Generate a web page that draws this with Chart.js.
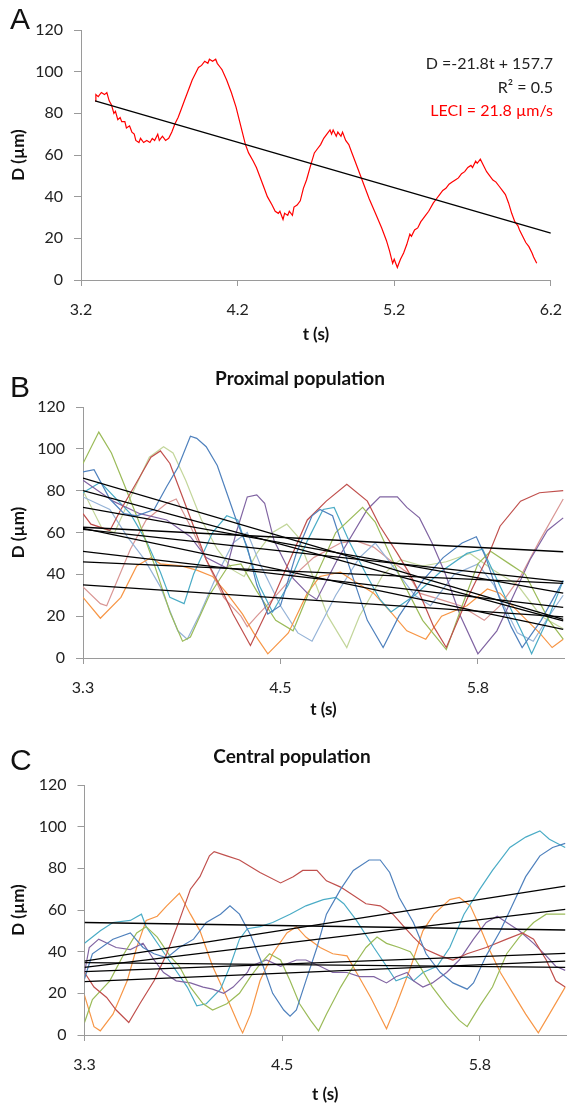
<!DOCTYPE html>
<html>
<head>
<meta charset="utf-8">
<script src="https://cdn.jsdelivr.net/npm/chart.js@4.4.0/dist/chart.umd.min.js"></script>
<style>
body { margin:0; background:#fff; width:576px; height:1108px; position:relative; overflow:hidden; font-family:Lato, sans-serif; }
.panel { position:absolute; left:0; width:576px; }
.letter { position:absolute; left:10px; font-family:"Liberation Sans", Arial, sans-serif; font-size:30px; line-height:30px; color:#111; }
.note { position:absolute; right:23px; font-size:16px; line-height:18px; text-align:right; color:#222; white-space:nowrap; }
.ptitle { position:absolute; width:300px; margin-left:-150px; text-align:center; font-weight:bold; font-size:19px; line-height:22px; color:#111; }
</style>
</head>
<body>
<div class="panel" style="top:0;height:345px"><canvas id="chartA"></canvas></div>
<div class="panel" style="top:345px;height:375px"><canvas id="chartB"></canvas></div>
<div class="panel" style="top:720px;height:388px"><canvas id="chartC"></canvas></div>

<div class="letter" style="top:4px">A</div>
<div class="letter" style="top:372px">B</div>
<div class="letter" style="top:745px">C</div>

<div class="ptitle" style="left:300px;top:367px">Proximal population</div>
<div class="ptitle" style="left:292px;top:745px">Central population</div>

<div class="note" style="top:54px">D =-21.8t + 157.7</div>
<div class="note" style="top:78px">R² = 0.5</div>
<div class="note" style="top:101px;color:#ff0000">LECI = 21.8 µm/s</div>

<script>
// Ejes
const yTicks = [0, 20, 40, 60, 80, 100, 120];
const xTicksA = [3.2, 4.2, 5.2, 6.2];
const xLabelsA = ['3.2', '4.2', '5.2', '6.2'];
const xTicksBC = [3.3, 4.55, 5.8];
const xLabelsBC = ['3.3', '4.5', '5.8'];

// Panel A: una trayectoria (t, D)
const aRed = [[3.29,86],[3.295,89],[3.31,88],[3.33,90],[3.35,89],[3.365,90],[3.38,86],[3.395,84],[3.41,80],[3.42,81],[3.435,77],[3.45,78],[3.46,76],[3.48,76],[3.49,73],[3.51,74],[3.525,71],[3.54,70],[3.55,67],[3.57,66],[3.58,68],[3.60,66],[3.62,67],[3.64,66],[3.655,68],[3.67,67],[3.69,70],[3.70,67],[3.72,69],[3.74,67],[3.76,68],[3.78,71],[3.80,75],[3.82,78],[3.84,82],[3.86,86],[3.88,90],[3.90,94],[3.91,96],[3.93,99],[3.95,102],[3.97,103],[3.99,105],[4.01,104],[4.02,106],[4.04,105],[4.06,106],[4.07,104],[4.09,102],[4.10,101],[4.13,96],[4.16,90],[4.19,83],[4.21,77],[4.23,71],[4.25,65],[4.27,61],[4.30,57],[4.32,54],[4.34,50],[4.37,44],[4.39,40],[4.42,36],[4.44,33],[4.46,32],[4.47,33],[4.49,29],[4.50,32],[4.52,31],[4.53,33],[4.55,31],[4.56,35],[4.58,36],[4.60,38],[4.62,44],[4.64,48],[4.67,56],[4.69,61],[4.71,63],[4.73,65],[4.75,68],[4.77,70],[4.79,72],[4.80,70],[4.81,72],[4.83,69],[4.84,71],[4.86,69],[4.87,71],[4.89,67],[4.91,65],[4.93,61],[4.95,57],[4.98,51],[5.01,45],[5.04,39],[5.08,32],[5.12,25],[5.15,19],[5.17,14],[5.19,8],[5.20,10],[5.22,6],[5.23,8],[5.24,10],[5.26,13],[5.28,17],[5.30,22],[5.31,21],[5.33,24],[5.35,25],[5.37,28],[5.38,29],[5.40,31],[5.42,33],[5.45,37],[5.47,39],[5.49,41],[5.51,43],[5.53,44],[5.55,46],[5.57,47],[5.59,48],[5.61,49],[5.63,51],[5.65,52],[5.67,54],[5.69,55],[5.70,54],[5.72,57],[5.73,56],[5.75,58],[5.77,55],[5.79,52],[5.81,50],[5.83,48],[5.85,47],[5.87,45],[5.89,43],[5.91,41],[5.93,37],[5.95,32],[5.97,28],[5.99,26],[6.00,24],[6.02,21],[6.04,18],[6.06,16],[6.08,13],[6.09,11],[6.11,8]];
const fitA = [-21.8, 157.7];      // pendiente, ordenada
const fitARange = [3.29, 6.2];

// Panel B: población proximal
const proxBlue = [[3.30,89],[3.37,90],[3.47,76],[3.56,69],[3.64,68],[3.75,71],[3.83,82],[3.90,91],[3.98,106],[4.02,105],[4.08,101],[4.15,92],[4.21,79],[4.27,66],[4.34,53],[4.40,35],[4.47,21],[4.55,25],[4.65,50],[4.75,68],[4.80,71],[4.88,68],[4.98,45],[5.10,18],[5.20,5],[5.30,20],[5.45,37],[5.58,48],[5.70,55],[5.79,58],[5.85,48],[5.93,30],[6.01,15],[6.08,5],[6.20,18],[6.34,37]];
const proxRed = [[3.30,69],[3.35,64],[3.47,61],[3.54,71],[3.64,84],[3.73,96],[3.79,99],[3.85,93],[3.92,79],[4.00,63],[4.08,47],[4.17,34],[4.25,21],[4.36,6],[4.50,28],[4.61,47],[4.72,66],[4.84,75],[4.97,83],[5.10,75],[5.18,63],[5.29,50],[5.37,40],[5.43,31],[5.52,15],[5.60,5],[5.73,28],[5.86,48],[5.94,63],[6.07,75],[6.19,79],[6.34,80]];
const proxGreen = [[3.30,93],[3.40,108],[3.48,98],[3.55,85],[3.65,66],[3.75,45],[3.85,22],[3.93,8],[3.98,10],[4.10,30],[4.22,44],[4.30,45],[4.40,32],[4.52,18],[4.63,13],[4.75,35],[4.90,60],[5.07,72],[5.15,65],[5.30,40],[5.45,18],[5.60,4],[5.70,25],[5.80,45],[5.88,51],[6.00,45],[6.10,40],[6.25,18],[6.34,9]];
const proxPurple = [[3.30,85],[3.49,75],[3.66,69],[3.83,66],[3.98,58],[4.08,48],[4.21,43],[4.27,60],[4.34,77],[4.40,78],[4.45,74],[4.51,56],[4.63,38],[4.72,31],[4.78,28],[4.91,47],[5.10,71],[5.18,77],[5.29,77],[5.35,72],[5.43,67],[5.51,55],[5.59,41],[5.69,20],[5.80,2],[5.92,13],[6.02,29],[6.13,47],[6.24,61],[6.34,67]];
const proxCyan = [[3.30,79],[3.41,84],[3.60,69],[3.70,56],[3.79,41],[3.85,29],[3.94,26],[4.00,40],[4.12,60],[4.21,68],[4.28,66],[4.34,52],[4.42,34],[4.50,22],[4.60,35],[4.72,56],[4.82,71],[4.89,72],[4.99,55],[5.10,39],[5.18,28],[5.25,22],[5.40,30],[5.56,41],[5.73,50],[5.83,52],[5.98,28],[6.10,9],[6.14,2],[6.25,20],[6.34,37]];
const proxOrange = [[3.30,29],[3.41,19],[3.54,29],[3.64,44],[3.73,48],[3.79,45],[3.92,44],[4.02,42],[4.12,39],[4.21,31],[4.31,21],[4.38,12],[4.47,2],[4.60,12],[4.72,31],[4.80,39],[4.93,41],[5.01,37],[5.14,31],[5.26,21],[5.35,13],[5.47,9],[5.57,20],[5.73,25],[5.86,33],[5.94,31],[6.07,21],[6.19,12],[6.27,5],[6.34,9]];
const proxLightBlue = [[3.30,77],[3.47,71],[3.58,58],[3.69,47],[3.79,34],[3.90,13],[3.96,9],[4.04,21],[4.15,40],[4.25,55],[4.34,60],[4.42,45],[4.55,25],[4.66,12],[4.75,8],[4.90,30],[5.05,48],[5.15,55],[5.25,45],[5.40,30],[5.50,25],[5.65,40],[5.80,45],[5.90,35],[6.05,12],[6.15,8],[6.25,20],[6.34,30]];
const proxPink = [[3.30,34],[3.41,26],[3.45,25],[3.60,52],[3.70,66],[3.83,74],[3.89,76],[3.98,63],[4.08,47],[4.19,29],[4.30,20],[4.34,15],[4.40,20],[4.50,28],[4.63,39],[4.76,48],[4.93,55],[5.03,56],[5.14,53],[5.24,47],[5.35,41],[5.43,31],[5.56,28],[5.69,25],[5.84,18],[5.94,25],[6.07,39],[6.19,56],[6.34,76]];
const proxLightGreen = [[3.30,80],[3.42,62],[3.50,60],[3.62,80],[3.72,96],[3.81,101],[3.87,98],[3.95,85],[4.05,66],[4.15,52],[4.25,42],[4.32,39],[4.40,50],[4.50,60],[4.59,64],[4.66,58],[4.75,40],[4.85,20],[4.97,5],[5.05,20],[5.20,40],[5.31,47],[5.45,44],[5.60,46],[5.75,50],[5.90,42],[6.05,35],[6.20,20],[6.34,14]];
const proxFitStart = [86, 80, 72, 62.5, 62, 61.5, 51, 46, 35];
const proxFitEnd = [18.5, 17.8, 31, 50.8, 13.7, 36.5, 24.2, 35.7, 19.7];

// Panel C: población central
const centRed = [[3.30,30],[3.36,23],[3.44,18],[3.50,12],[3.58,6],[3.65,15],[3.74,26],[3.82,39],[3.90,55],[3.97,70],[4.03,76],[4.09,86],[4.12,88],[4.20,86],[4.28,84],[4.41,78],[4.54,73],[4.62,76],[4.68,79],[4.77,79],[4.83,74],[4.92,71],[4.98,68],[5.08,63],[5.17,62],[5.25,58],[5.32,52],[5.38,47],[5.46,41],[5.55,38],[5.63,36],[5.72,39],[5.84,42],[5.97,46],[6.07,49],[6.14,46],[6.22,36],[6.28,26],[6.34,23]];
const centOrange = [[3.30,19],[3.36,4],[3.40,2],[3.48,10],[3.57,26],[3.63,42],[3.69,55],[3.76,57],[3.82,62],[3.90,68],[3.97,58],[4.03,50],[4.11,33],[4.20,18],[4.28,4],[4.30,1],[4.35,10],[4.41,26],[4.49,39],[4.58,49],[4.64,52],[4.70,47],[4.79,42],[4.87,39],[4.96,38],[5.02,30],[5.11,18],[5.17,9],[5.21,3],[5.27,14],[5.36,32],[5.44,50],[5.51,58],[5.61,65],[5.67,66],[5.74,62],[5.80,52],[5.86,41],[5.93,30],[6.01,20],[6.09,10],[6.17,1],[6.24,10],[6.34,23]];
const centCyan = [[3.30,44],[3.40,50],[3.48,54],[3.59,55],[3.66,58],[3.69,52],[3.78,42],[3.86,33],[3.95,23],[4.01,14],[4.07,15],[4.16,22],[4.22,33],[4.28,46],[4.33,51],[4.41,52],[4.49,54],[4.60,58],[4.70,62],[4.81,65],[4.89,66],[4.94,63],[5.02,55],[5.13,42],[5.21,33],[5.27,26],[5.34,28],[5.38,26],[5.44,30],[5.53,33],[5.61,42],[5.70,58],[5.80,70],[5.88,79],[5.99,90],[6.09,95],[6.18,98],[6.24,94],[6.34,90]];
const centBlue = [[3.30,27],[3.35,39],[3.48,46],[3.59,49],[3.67,42],[3.74,39],[3.82,37],[3.90,42],[3.99,46],[4.07,54],[4.16,58],[4.22,62],[4.28,58],[4.35,48],[4.43,33],[4.49,20],[4.56,12],[4.60,9],[4.64,12],[4.70,26],[4.77,42],[4.83,58],[4.92,70],[5.00,79],[5.10,84],[5.17,84],[5.23,78],[5.29,66],[5.38,54],[5.46,39],[5.55,30],[5.63,25],[5.72,22],[5.76,25],[5.84,38],[5.93,50],[6.01,63],[6.09,76],[6.18,86],[6.26,90],[6.34,92]];
const centGreen = [[3.30,6],[3.35,17],[3.46,26],[3.55,39],[3.63,49],[3.69,52],[3.76,47],[3.84,38],[3.90,33],[3.97,23],[4.05,15],[4.11,12],[4.20,15],[4.28,20],[4.35,28],[4.41,34],[4.47,39],[4.54,36],[4.60,26],[4.66,15],[4.73,7],[4.78,2],[4.83,10],[4.92,23],[5.00,33],[5.08,42],[5.15,47],[5.21,44],[5.29,42],[5.36,40],[5.42,33],[5.50,23],[5.59,14],[5.67,7],[5.72,4],[5.80,14],[5.88,23],[5.97,39],[6.05,47],[6.14,54],[6.22,58],[6.34,58]];
const centPurple = [[3.30,30],[3.33,42],[3.39,46],[3.50,42],[3.59,41],[3.67,44],[3.74,36],[3.80,30],[3.88,26],[3.97,25],[4.05,23],[4.11,22],[4.18,20],[4.24,23],[4.33,30],[4.35,33],[4.45,36],[4.54,33],[4.64,36],[4.70,36],[4.79,33],[4.87,30],[4.96,30],[5.04,28],[5.13,28],[5.21,25],[5.27,28],[5.34,30],[5.38,26],[5.44,23],[5.50,25],[5.59,30],[5.67,36],[5.76,46],[5.84,54],[5.91,57],[5.97,54],[6.05,50],[6.14,44],[6.22,38],[6.28,33],[6.34,31]];
const centFitStart = [54, 35.5, 32.5, 34.7, 30.4, 25.6];
const centFitEnd = [50.4, 71.5, 60.3, 32.5, 39.2, 35.5];

const fitSpanBC = [3.3, 6.34];

// Colores tipo Excel
const colBlue = '#4F81BD', colRed = '#C0504D', colGreen = '#9BBB59', colPurple = '#8064A2',
      colCyan = '#4BACC6', colOrange = '#F79646', colLightBlue = '#95B3D7', colPink = '#D99694',
      colLightGreen = '#C3D69B';

function toPoints(arr) {
    return arr.map(p => ({ x: p[0], y: p[1] }));
}

function trace(arr, color) {
    return { data: toPoints(arr), borderColor: color, borderWidth: 1.2, pointRadius: 0, tension: 0 };
}

function fitLine(x0, y0, x1, y1) {
    return { data: [{ x: x0, y: y0 }, { x: x1, y: y1 }], borderColor: '#000', borderWidth: 1.3, pointRadius: 0 };
}

function makeChart(id, o) {
    return new Chart(document.getElementById(id), {
        type: 'line',
        data: { datasets: o.datasets },
        options: {
            responsive: true,
            maintainAspectRatio: false,
            animation: false,
            layout: { padding: { left: 0, right: o.padRight, top: o.padTop, bottom: 0 } },
            plugins: { legend: { display: false }, tooltip: { enabled: false } },
            scales: {
                x: {
                    type: 'linear',
                    min: o.xMin,
                    max: o.xMax,
                    afterBuildTicks: s => { s.ticks = o.xTicks.map(v => ({ value: v })); },
                    afterFit: s => { s.height = o.xAxisH; },
                    grid: { display: true, drawOnChartArea: false, drawTicks: true, tickLength: 6, color: '#9a9a9a' },
                    border: { display: true, color: '#9a9a9a', width: 1 },
                    ticks: {
                        font: { family: 'Lato', size: 16 },
                        color: '#222',
                        padding: 14,
                        maxRotation: 0,
                        autoSkip: false,
                        callback: (v, i) => o.xLabels[i]
                    },
                    title: {
                        display: true, text: 't (s)', color: '#111',
                        font: { family: 'Lato', size: 17, weight: 'bold' },
                        padding: { top: 0, bottom: o.xTitlePad }
                    }
                },
                y: {
                    min: 0,
                    max: 120,
                    afterBuildTicks: s => { s.ticks = yTicks.map(v => ({ value: v })); },
                    afterFit: s => { s.width = o.yAxisW; },
                    grid: { display: true, drawOnChartArea: false, drawTicks: true, tickLength: 7, color: '#9a9a9a' },
                    border: { display: true, color: '#9a9a9a', width: 1 },
                    ticks: { font: { family: 'Lato', size: 16 }, color: '#222', padding: 11 },
                    title: {
                        display: true, text: 'D (µm)', color: '#111',
                        font: { family: 'Lato', size: 17, weight: 'bold' },
                        padding: { top: 8, bottom: 0 }
                    }
                }
            }
        }
    });
}

document.addEventListener('DOMContentLoaded', function() {
    // Panel A
    const dsA = [
        fitLine(fitARange[0], fitA[0] * fitARange[0] + fitA[1], fitARange[1], fitA[0] * fitARange[1] + fitA[1]),
        trace(aRed, '#FF0000')
    ];
    makeChart('chartA', {
        datasets: dsA, padRight: 14, padTop: 30, xAxisH: 65, yAxisW: 81, xTitlePad: 0,
        xMin: 3.2, xMax: 6.2, xTicks: xTicksA, xLabels: xLabelsA
    });

    // Panel B
    const dsB = proxFitStart.map((v, i) => fitLine(fitSpanBC[0], v, fitSpanBC[1], proxFitEnd[i]));
    dsB.push(
        trace(proxBlue, colBlue), trace(proxRed, colRed), trace(proxGreen, colGreen),
        trace(proxPurple, colPurple), trace(proxCyan, colCyan), trace(proxOrange, colOrange),
        trace(proxLightBlue, colLightBlue), trace(proxPink, colPink), trace(proxLightGreen, colLightGreen)
    );
    makeChart('chartB', {
        datasets: dsB, padRight: 12, padTop: 62, xAxisH: 62, yAxisW: 83, xTitlePad: 0,
        xMin: 3.3, xMax: 6.345, xTicks: xTicksBC, xLabels: xLabelsBC
    });

    // Panel C
    const dsC = centFitStart.map((v, i) => fitLine(fitSpanBC[0], v, fitSpanBC[1], centFitEnd[i]));
    dsC.push(
        trace(centBlue, colBlue), trace(centRed, colRed), trace(centGreen, colGreen),
        trace(centPurple, colPurple), trace(centCyan, colCyan), trace(centOrange, colOrange)
    );
    makeChart('chartC', {
        datasets: dsC, padRight: 10, padTop: 65, xAxisH: 73, yAxisW: 84.5, xTitlePad: 3,
        xMin: 3.3, xMax: 6.345, xTicks: xTicksBC, xLabels: xLabelsBC
    });
});
</script>
</body>
</html>
